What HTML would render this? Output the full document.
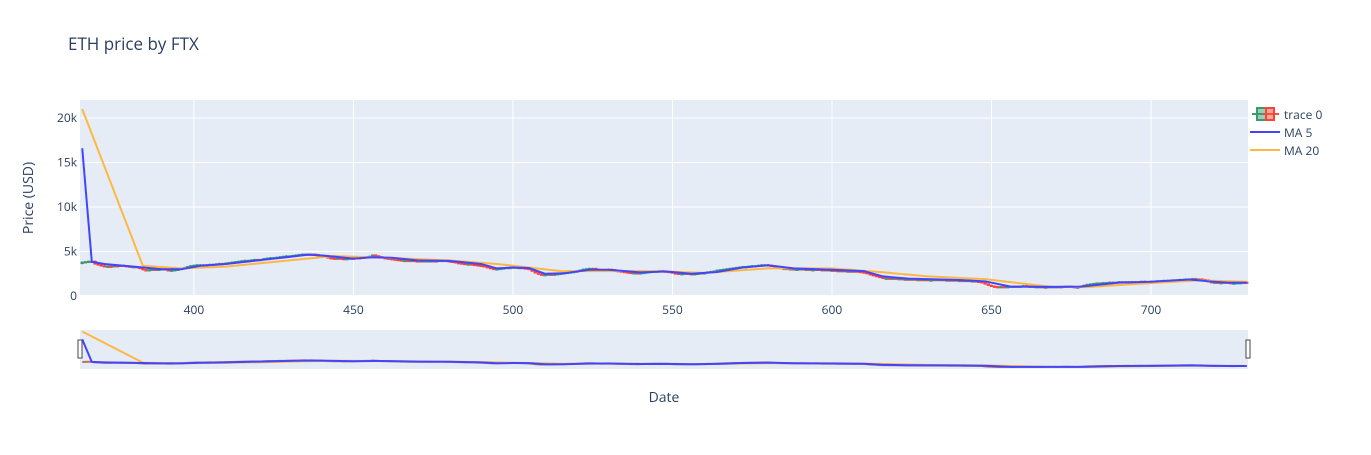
<!DOCTYPE html>
<html><head><meta charset="utf-8"><style>
body{margin:0;background:#fff;}
svg text{font-family:"Open Sans","Liberation Sans",sans-serif;fill:#2a3f5f;}
</style></head><body>
<svg id="chart" width="1371" height="450" xmlns="http://www.w3.org/2000/svg">
<rect x="0" y="0" width="1371" height="450" fill="#fff"/>
<text x="68" y="50" font-size="17">ETH price by FTX</text>
<rect x="80" y="100" width="1168" height="197" fill="#e5ecf6"/>
<rect x="80" y="330" width="1168" height="39" fill="#e5ecf6"/>
<g id="grid"></g>
<g id="slider"></g>
<g id="candles"></g>
<g id="lines"></g>
<text transform="translate(33,198) rotate(-90)" text-anchor="middle" font-size="14">Price (USD)</text>
<text x="664" y="402" text-anchor="middle" font-size="14">Date</text>
<g>
<g>
<line x1="1252" y1="114" x2="1279" y2="114" stroke="#ef553b" stroke-width="2"/>
<line x1="1252" y1="114" x2="1262" y2="114" stroke="#3d9970" stroke-width="2"/>
<rect x="1257" y="108" width="9" height="12" fill="#3d9970" fill-opacity="0.5" stroke="#3d9970" stroke-width="2"/>
<rect x="1266" y="108" width="8" height="12" fill="#ef553b" fill-opacity="0.5" stroke="#ff4136" stroke-width="2"/>
<text x="1284" y="119" font-size="12">trace 0</text></g>
<g>
<line x1="1250" y1="132" x2="1280" y2="132" stroke="#4444ff" stroke-width="2"/>
<text x="1284" y="137" font-size="12">MA 5</text></g>
<g>
<line x1="1250" y1="150" x2="1280" y2="150" stroke="#fdb843" stroke-width="2"/>
<text x="1284" y="155" font-size="12">MA 20</text></g>
</g>
</svg>
<script>
const startDay = 365;
const closes = [
3.8,3.85,3.9,3.9,3.6,3.5,3.4,3.3,3.35,3.3,
3.4,3.35,3.45,3.4,3.35,3.3,3.3,3.25,3.1,2.95,
2.9,2.95,3.0,2.95,3.0,3.05,2.95,2.9,2.9,2.95,
3.0,3.1,3.2,3.3,3.4,3.45,3.5,3.5,3.45,3.5,
3.55,3.5,3.6,3.65,3.6,3.7,3.75,3.8,3.85,3.9,
3.95,4.0,4.0,4.05,4.1,4.05,4.1,4.2,4.25,4.3,
4.3,4.35,4.4,4.45,4.5,4.5,4.55,4.6,4.65,4.7,
4.7,4.65,4.7,4.65,4.6,4.55,4.4,4.3,4.25,4.2,
4.25,4.2,4.15,4.2,4.25,4.2,4.3,4.25,4.35,4.4,
4.45,4.6,4.5,4.4,4.3,4.25,4.2,4.15,4.1,4.05,
4.0,4.0,3.95,4.0,3.95,3.9,3.95,3.9,3.95,3.95,
3.9,3.95,4.0,4.0,3.95,3.9,3.85,3.75,3.7,3.65,
3.6,3.6,3.55,3.5,3.45,3.4,3.3,3.2,3.1,3.0,
3.05,3.1,3.15,3.2,3.2,3.25,3.2,3.2,3.15,3.1,
3.0,2.8,2.6,2.45,2.4,2.4,2.45,2.4,2.45,2.5,
2.55,2.6,2.65,2.7,2.75,2.8,2.9,3.0,3.05,3.1,
3.1,3.0,2.95,2.9,2.95,3.0,2.95,2.85,2.8,2.75,
2.7,2.65,2.6,2.6,2.55,2.6,2.65,2.7,2.75,2.8,
2.8,2.85,2.8,2.75,2.7,2.6,2.55,2.5,2.5,2.55,
2.5,2.5,2.5,2.55,2.6,2.6,2.7,2.75,2.8,2.9,
2.95,3.0,3.05,3.1,3.15,3.2,3.25,3.3,3.3,3.35,
3.4,3.4,3.45,3.5,3.5,3.45,3.4,3.3,3.2,3.1,
3.1,3.05,3.05,3.0,3.0,3.05,3.0,3.0,2.95,2.95,
3.0,2.95,2.9,2.95,2.9,2.9,2.85,2.8,2.85,2.8,
2.8,2.75,2.8,2.75,2.7,2.65,2.5,2.4,2.3,2.2,
2.1,2.0,2.0,1.95,2.0,1.95,1.95,1.9,1.9,1.85,
1.9,1.85,1.85,1.8,1.85,1.8,1.8,1.85,1.8,1.85,
1.8,1.8,1.75,1.8,1.75,1.75,1.7,1.75,1.7,1.7,
1.65,1.6,1.5,1.35,1.2,1.1,1.05,1.0,1.05,1.0,
1.05,1.1,1.05,1.1,1.1,1.15,1.1,1.1,1.05,1.05,
1.05,1.0,1.0,1.05,1.0,1.05,1.0,1.05,1.1,1.1,
1.05,1.0,1.0,1.1,1.2,1.3,1.35,1.4,1.45,1.45,
1.5,1.5,1.55,1.5,1.55,1.6,1.55,1.6,1.6,1.55,
1.6,1.6,1.65,1.6,1.6,1.65,1.65,1.7,1.7,1.75,
1.7,1.75,1.8,1.8,1.85,1.85,1.9,1.9,1.95,1.9,
1.9,1.85,1.8,1.6,1.55,1.55,1.5,1.5,1.55,1.5,
1.45,1.45,1.5,1.5,1.55,1.5];
const ma5Dates = [365,368,372,378,384,390,396,402,410,420,430,436,442,450,456,462,470,480,490,495,500,505,510,516,524,530,540,548,556,564,572,580,588,600,610,616,624,640,648,656,670,678,690,700,712,718,724,730];
const ma5Values = [16.6,3.85,3.6,3.4,3.2,3.0,3.0,3.4,3.6,4.0,4.4,4.65,4.5,4.2,4.35,4.3,4.0,3.95,3.6,3.1,3.2,3.15,2.5,2.55,2.95,2.95,2.65,2.75,2.5,2.7,3.2,3.45,3.1,2.95,2.8,2.2,1.95,1.8,1.65,1.05,1.02,1.05,1.5,1.6,1.85,1.65,1.5,1.5];
const ma20Dates = [365,384,396,410,430,444,460,480,495,505,515,530,545,560,580,600,615,630,648,668,680,700,715,730];
const ma20Values = [21.0,3.4,3.1,3.3,4.0,4.5,4.3,4.0,3.6,3.2,2.8,2.8,2.8,2.6,3.1,3.1,2.7,2.2,1.9,1.05,1.0,1.45,1.75,1.6];
const xTicks = [400,450,500,550,600,650,700];
const yTicks = [0,5,10,15,20];
const yTickLabels = ["0","5k","10k","15k","20k"];

const NS="http://www.w3.org/2000/svg";
function el(tag,attrs,parent){const e=document.createElementNS(NS,tag);for(const k in attrs)e.setAttribute(k,attrs[k]);parent.appendChild(e);return e;}
const X0=364.3,X1=730.4, PX0=80,PX1=1248;
const xs=d=>PX0+(d-X0)/(X1-X0)*(PX1-PX0);
const ys=v=>296-v*8.9;
const ysS=v=>368-(v-0.4)/(21.3-0.4)*37;
const grid=document.getElementById('grid');
xTicks.forEach(t=>{
  const l=el('line',{x1:xs(t),x2:xs(t),y1:100,y2:297,stroke:'#fff','stroke-width':1},grid);
  
  
  const tx=el('text',{x:xs(t),y:314,'text-anchor':'middle','font-size':12},grid);
  tx.textContent=t;
  
  
});
yTicks.forEach((t,i)=>{
  const l=el('line',{x1:80,x2:1248,y1:ys(t*1),y2:ys(t*1),stroke:'#fff','stroke-width':t===0?2:1},grid);
  
  
  const tx=el('text',{x:77,y:ys(t)+4,'text-anchor':'end','font-size':12},grid);
  tx.textContent=yTickLabels[i];
  
  
});
const cg=document.getElementById('candles');
const sg=document.getElementById('slider');
closes.forEach((c,i)=>{
  const d=startDay+i;
  const o=i===0?c-0.15:closes[i-1];
  const up=c>=o;
  const col=up?'#3d9970':'#ff4136';
  const hi=Math.max(o,c)+0.08, lo=Math.min(o,c)-0.08;
  const x=xs(d);
  const w=el('line',{x1:x,x2:x,y1:ys(hi),y2:ys(lo),stroke:col,'stroke-width':1.5},cg);
  
  
  const top=ys(Math.max(o,c)), bot=ys(Math.min(o,c));
  const b=el('rect',{x:x-1.2,y:top,width:2.4,height:Math.max(bot-top,1.2),fill:col,stroke:col,'stroke-width':1},cg);
  
  
});
const sp=el('polyline',{points:closes.map((c,i)=>xs(startDay+i)+','+ysS(c)).join(' '),fill:'none',stroke:'#c07060','stroke-width':2},sg);


const lg=document.getElementById('lines');
function line(dates,vals,col,name,g,sc){
  const p=el('polyline',{points:dates.map((d,i)=>xs(d)+','+sc(vals[i])).join(' '),fill:'none',stroke:col,'stroke-width':2},g);
  
  
}
line(ma20Dates,ma20Values,'#fdb843','ma20-line',lg,ys);
line(ma5Dates,ma5Values,'#4444ff','ma5-line',lg,ys);
line(ma20Dates,ma20Values,'#fdb843','slider-ma20-line',sg,ysS);
line(ma5Dates,ma5Values,'#4444ff','slider-ma5-line',sg,ysS);
[78,1246].forEach((hx,i)=>{
  const h=el('rect',{x:hx,y:340,width:4,height:18,fill:'#fff',stroke:'#444','stroke-width':1},sg);
  
  
});
</script>
</body></html>
